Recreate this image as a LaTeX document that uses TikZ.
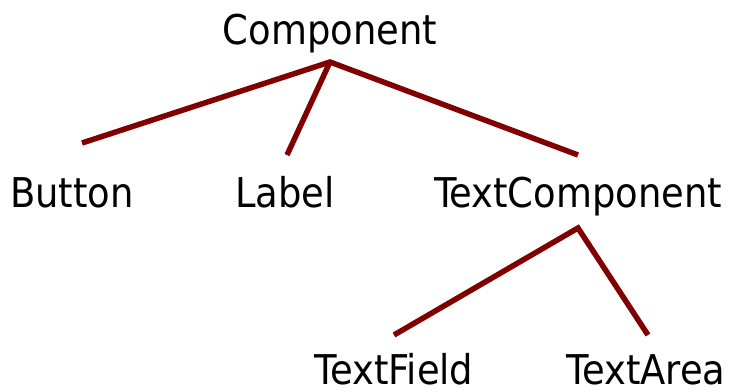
\documentclass[tikz,border=0pt]{standalone}
\usepackage{fontspec}
\setmainfont{DejaVu Sans Condensed}
\definecolor{maroon}{RGB}{128,0,0}
\begin{document}
\begin{tikzpicture}[x=1pt,y=-1pt]
    \tikzstyle{cls}=[inner sep=0pt,anchor=base,font=\fontsize{41}{41}\selectfont]
    \tikzstyle{edge}=[draw=maroon,line width=5.5pt]
    \useasboundingbox (0,0) rectangle (736,391);
    % class names
    \node[cls] (comp) at (330,44) {Component};
    \node[cls] (button) at (72,207) {Button};
    \node[cls] (label) at (285,207) {Label};
    \node[cls] (textcomp) at (578,207) {TextComponent};
    \node[cls] (textfield) at (394,384) {TextField};
    \node[cls] (textarea) at (646,384) {TextArea};
    % joints and line ends
    \coordinate (comp-j) at (330,62);
    \coordinate (button-e) at (82,143);
    \coordinate (label-e) at (287,155);
    \coordinate (textcomp-e) at (578,155);
    \coordinate (textcomp-j) at (578,228);
    \coordinate (textfield-e) at (394,335);
    \coordinate (textarea-e) at (648,335);
    \draw[edge] (button-e) -- (comp-j) -- (textcomp-e);
    \draw[edge] (comp-j) -- (label-e);
    \draw[edge] (textfield-e) -- (textcomp-j) -- (textarea-e);
\end{tikzpicture}
\end{document}
